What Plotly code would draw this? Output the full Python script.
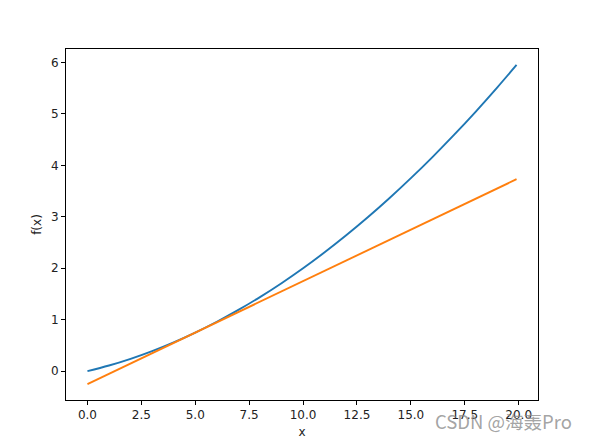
import plotly.graph_objects as go

# Curve f(x)
curve_x = [0, 1, 2, 3, 4, 5, 6, 7, 8, 9, 10, 11, 12, 13, 14, 15, 16, 17, 18, 19, 19.9]
curve_y = [0.0, 0.11, 0.24, 0.39, 0.56, 0.75, 0.96, 1.19, 1.44, 1.71, 2.00,
           2.31, 2.64, 2.99, 3.36, 3.75, 4.16, 4.59, 5.04, 5.51, 5.95]

# Tangent line
tan_x = [0, 19.9]
tan_y = [-0.25, 3.73]

x_ticks = [0, 2.5, 5, 7.5, 10, 12.5, 15, 17.5, 20]
y_ticks = [0, 1, 2, 3, 4, 5, 6]

fig = go.Figure()
fig.add_trace(go.Scatter(x=curve_x, y=curve_y, mode="lines", line_shape="spline",
                         line=dict(color="#1f77b4", width=1.9)))
fig.add_trace(go.Scatter(x=tan_x, y=tan_y, mode="lines",
                         line=dict(color="#ff7f0e", width=1.9)))

font = dict(family="DejaVu Sans", size=12, color="#222")
axis_common = dict(showgrid=False, zeroline=False, showline=True, mirror=True,
                   linecolor="black", linewidth=1, ticks="outside", ticklen=4,
                   tickcolor="black", tickwidth=1, tickfont=font)

fig.update_layout(
    width=590, height=440,
    margin=dict(l=58, r=60, t=41, b=48),
    paper_bgcolor="white", plot_bgcolor="white",
    showlegend=False,
    xaxis=dict(range=[-0.995, 20.895], tickvals=x_ticks,
               ticktext=[f"{v:.1f}" for v in x_ticks],
               title=dict(text="x", font=font, standoff=6), **axis_common),
    yaxis=dict(range=[-0.56, 6.26], tickvals=y_ticks,
               ticktext=[str(v) for v in y_ticks],
               title=dict(text="f(x)", font=font, standoff=6), **axis_common),
    annotations=[dict(text="CSDN @海轰Pro", xref="paper", yref="paper",
                      x=1.076, y=-0.06, xanchor="right", yanchor="middle",
                      showarrow=False,
                      font=dict(family="Noto Sans CJK SC", size=18.5,
                                color="rgba(140,140,140,0.8)"))]
)

fig.write_html("out.html")
